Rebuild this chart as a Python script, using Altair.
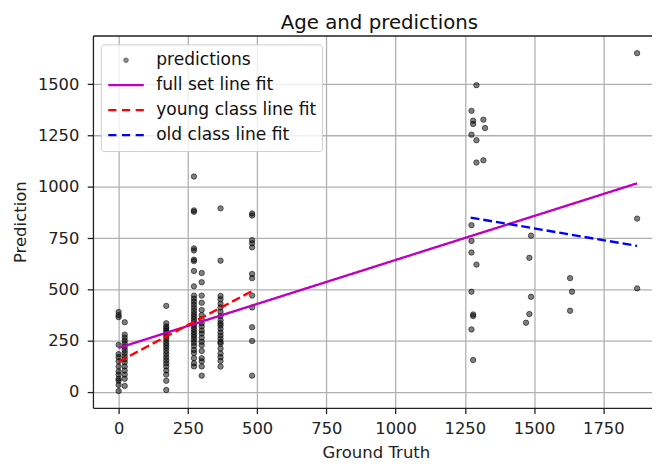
import altair as alt
import pandas as pd

# ---------------- data ----------------
# ground truth columns (young class) and their predictions
young_truth_cols = [0, 22, 172, 272, 300, 368, 482]
pred_at_0 = [390, 375, 365, 230, 185, 170, 150, 125, 100, 85, 65, 55, 35, 5]
pred_at_22 = [340, 280, 265, 250, 235, 220, 205, 190, 175, 160, 145, 125, 105, 85, 65, 30]
pred_at_172 = [420, 335, 320, 310, 300, 290, 280, 268, 255, 240, 228, 215, 200, 185,
               170, 155, 140, 125, 105, 85, 55, 10]
pred_at_272 = [1050, 885, 878, 700, 690, 645, 638, 590, 515, 470, 455, 440, 425, 410,
               395, 380, 368, 355, 342, 330, 318, 305, 292, 280, 268, 255, 240, 225,
               205, 190, 165, 140, 125]
pred_at_300 = [580, 535, 470, 435, 400, 375, 355, 335, 320, 300, 285, 265, 245, 228,
               200, 165, 150, 125, 80]
pred_at_368 = [895, 640, 468, 452, 430, 412, 390, 370, 350, 335, 324, 308, 290, 275,
               260, 244, 236, 212, 188, 170, 151, 124]
pred_at_482 = [870, 860, 740, 725, 705, 575, 555, 470, 412, 316, 249, 80]

# old class: individual points
old_truth = [1292, 1274, 1280, 1280, 1317, 1323, 1274, 1292, 1292, 1317, 1274, 1274,
             1274, 1292, 1274, 1280, 1280, 1274, 1280,
             1489, 1483, 1489, 1483, 1471,
             1630, 1637, 1630,
             1872, 1872, 1872]
old_pred = [1495, 1370, 1322, 1306, 1327, 1286, 1254, 1227, 1118, 1129, 813, 736,
            680, 621, 489, 378, 370, 305, 156,
            762, 654, 464, 380, 338,
            555, 489, 396,
            1651, 845, 505]

# fitted lines (end points)
fit_names = ["full set line fit", "young class line fit", "old class line fit"]
full_fit_x = [0, 1872]
full_fit_y = [215, 1017]
young_fit_x = [0, 482]
young_fit_y = [148, 492]
old_fit_x = [1271, 1872]
old_fit_y = [850, 712]

x_ticks = [0, 250, 500, 750, 1000, 1250, 1500, 1750]
y_ticks = [0, 250, 500, 750, 1000, 1250, 1500]

series_names = ["predictions"] + fit_names
series_colors = ["rgba(0,0,0,0.5)", "#bf00bf", "#ff0000", "#0000ff"]
fit_colors = ["#bf00bf", "#ff0000", "#0000ff"]

# ---------------- tables ----------------
young_cols = [pred_at_0, pred_at_22, pred_at_172, pred_at_272, pred_at_300, pred_at_368, pred_at_482]
rows = []
for t, preds in zip(young_truth_cols, young_cols):
    for p in preds:
        rows.append({"truth": t, "pred": p})
for t, p in zip(old_truth, old_pred):
    rows.append({"truth": t, "pred": p})
df_pts = pd.DataFrame(rows)

line_rows = []
for name, xs, ys in [(fit_names[0], full_fit_x, full_fit_y),
                     (fit_names[1], young_fit_x, young_fit_y),
                     (fit_names[2], old_fit_x, old_fit_y)]:
    for xv, yv in zip(xs, ys):
        line_rows.append({"truth": xv, "pred": yv, "series": name})
df_lines = pd.DataFrame(line_rows)

df_legend = pd.DataFrame({"series": series_names})
df_one = pd.DataFrame({"truth": [0]})

# ---------------- encodings ----------------
FONT = "DejaVu Sans"
x_scale = alt.Scale(domain=[-92.7, 1925.8], nice=False, zero=False)
y_scale = alt.Scale(domain=[-77, 1737], nice=False, zero=False)

x_enc = alt.X("truth:Q", scale=x_scale,
              axis=alt.Axis(values=x_ticks, format="d", title="Ground Truth",
                            labelPadding=7.2, titleX=286.5, titleY=50.5,
                            titleBaseline="alphabetic", titleAlign="center"))
x_enc_noaxis = alt.X("truth:Q", scale=x_scale, axis=None)
y_enc = alt.Y("pred:Q", scale=y_scale,
              axis=alt.Axis(values=y_ticks, format="d", title="Prediction",
                            labelPadding=8.5, titleX=-68, titleY=188.5, titleAngle=270,
                            titleBaseline="alphabetic", titleAlign="center"))

points = alt.Chart(df_pts).mark_point(
    filled=True, shape="circle", size=30, fill="black", fillOpacity=0.5,
    stroke="black", strokeOpacity=0.55, strokeWidth=1
).encode(x=x_enc, y=y_enc)

lines = alt.Chart(df_lines).mark_line(strokeWidth=2.4).encode(
    x=x_enc_noaxis, y=y_enc,
    color=alt.Color("series:N", scale=alt.Scale(domain=fit_names, range=fit_colors), legend=None),
    strokeDash=alt.StrokeDash("series:N", scale=alt.Scale(domain=fit_names, range=[[1, 0], [9, 4], [9, 4]]), legend=None),
    detail="series:N",
)

# top spine + chart title carried by a top axis
top_axis = alt.Chart(df_one).mark_point(opacity=0).encode(
    x=alt.X("truth:Q", scale=x_scale,
            axis=alt.Axis(orient="top", labels=False, ticks=False, grid=False, domain=True,
                          title="Age and predictions", titleFontSize=20, titleColor="#111",
                          titleX=289.5, titleY=-7.3, titleBaseline="alphabetic",
                          titleAlign="center")),
)

dot_path = "M-0.09,0A0.09,0.09,0,1,1,0.09,0A0.09,0.09,0,1,1,-0.09,0Z"
solid_path = "M-1,0H1"
dash_path = "M-1,0H-0.54M-0.23,0H0.23M0.54,0H1"
shape_paths = [dot_path, solid_path, dash_path, dash_path]

leg = alt.Legend(
    title=None, orient="none", legendX=8, legendY=9,
    fillColor="rgba(255,255,255,0.8)", strokeColor="#cccccc", cornerRadius=3,
    padding=6, symbolSize=1296, symbolStrokeWidth=2.4, symbolOpacity=1,
    clipHeight=20, rowPadding=5.3, labelOffset=11, labelLimit=400,
    labelFont=FONT, labelFontSize=17.3, labelColor="#111",
)

legend_layer = alt.Chart(df_legend).mark_point(filled=False, opacity=0).encode(
    stroke=alt.Stroke("series:N", scale=alt.Scale(domain=series_names, range=series_colors), legend=leg),
    shape=alt.Shape("series:N", scale=alt.Scale(domain=series_names, range=shape_paths), legend=leg),
)

chart = alt.layer(points, lines, top_axis, legend_layer).resolve_axis(x="independent").properties(
    width=566, height=377,
    autosize=alt.AutoSizeParams(type="none"),
    padding={"left": 86, "top": 25, "right": 0, "bottom": 55},
).configure_view(stroke=None).configure_axis(
    domainColor="#222", domainWidth=1.3, tickColor="#222", tickWidth=1.3, tickSize=5.8,
    gridColor="#b0b0b0", gridWidth=1.3,
    labelFont=FONT, labelFontSize=16.5, labelColor="#222",
    titleFont=FONT, titleFontSize=16.7, titleFontWeight="normal", titleColor="#222",
)

chart.save("out.html", embed_options={"renderer": "svg", "actions": False})
